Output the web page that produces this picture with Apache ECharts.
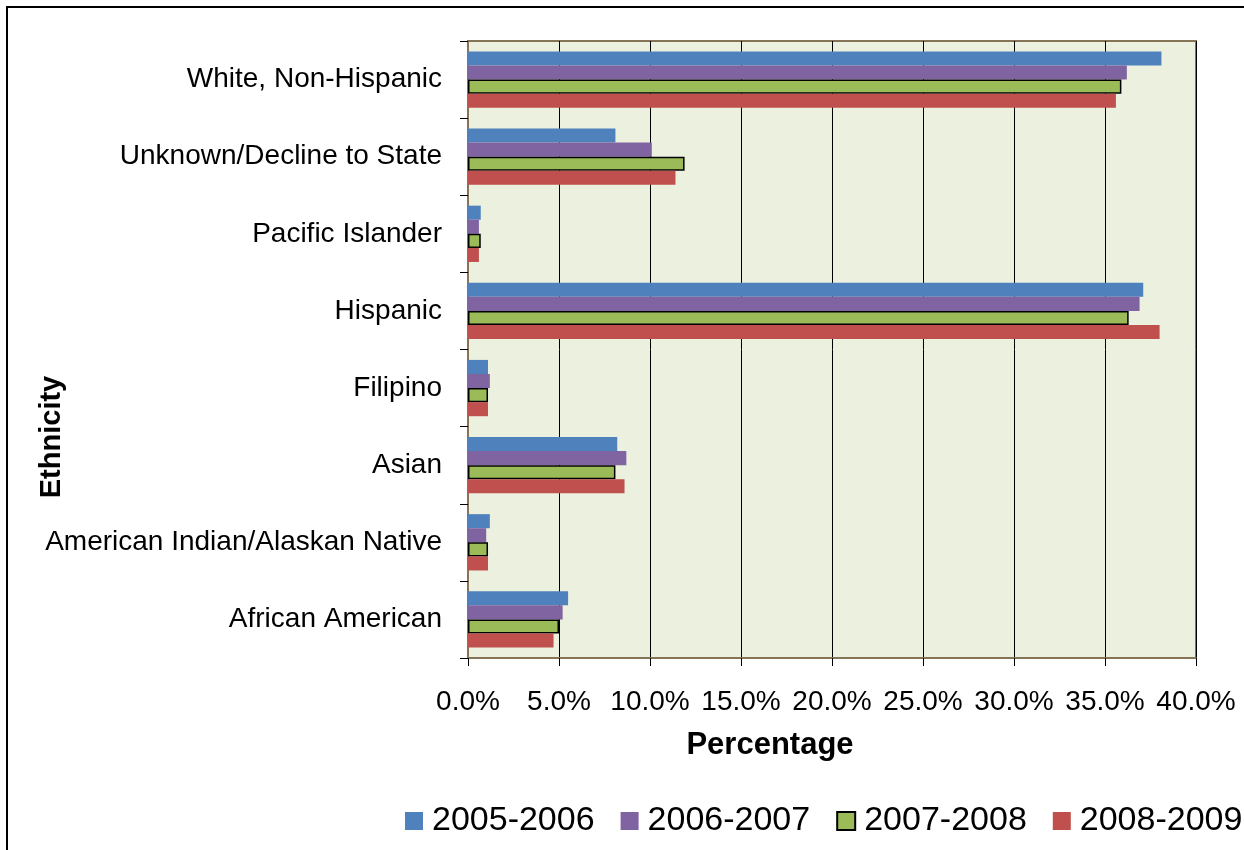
<!DOCTYPE html>
<html>
<head>
<meta charset="utf-8">
<script src="https://cdn.jsdelivr.net/npm/echarts@6/dist/echarts.min.js"></script>
<style>
html,body{margin:0;padding:0;background:#fff;}
#chart{width:1244px;height:850px;}
</style>
</head>
<body>
<div id="chart"></div>
<script>
const categories = ["African American", "American Indian/Alaskan Native", "Asian", "Filipino", "Hispanic", "Pacific Islander", "Unknown/Decline to State", "White, Non-Hispanic"];
const seriesNames = ["2005-2006", "2006-2007", "2007-2008", "2008-2009"];
const s2005 = [5.5, 1.2, 8.2, 1.1, 37.1, 0.7, 8.1, 38.1];
const s2006 = [5.2, 1.0, 8.7, 1.2, 36.9, 0.6, 10.1, 36.2];
const s2007 = [5.0, 1.1, 8.1, 1.1, 36.3, 0.7, 11.9, 35.9];
const s2008 = [4.7, 1.1, 8.6, 1.1, 38.0, 0.6, 11.4, 35.6];
const xTicks = [0, 5, 10, 15, 20, 25, 30, 35, 40];

const colors = ["#4F81BD", "#8064A2", "#9BBB59", "#C0504D"];
const values = [s2005, s2006, s2007, s2008];
const FONT = 'Liberation Sans, Arial, sans-serif';

const chart = echarts.init(document.getElementById('chart'));
const series = seriesNames.map((n, i) => ({
  name: n,
  type: 'bar',
  data: values[i],
  barGap: '0%',
  barCategoryGap: '27%',
  itemStyle: {
    color: colors[i],
    borderColor: i === 2 ? '#000' : colors[i],
    borderWidth: i === 2 ? 1.5 : 0
  }
}));

chart.setOption({
  animation: false,
  textStyle: {fontFamily: FONT},
  graphic: [{
    type: 'rect', shape: {x: 7, y: 7, width: 1300, height: 900},
    style: {fill: 'none', stroke: '#000', lineWidth: 2}, silent: true
  }, {
    type: 'text', x: 52, y: 437, rotation: Math.PI / 2,
    style: {text: 'Ethnicity', font: 'bold 29px ' + FONT, fill: '#000', align: 'center', verticalAlign: 'middle'}
  }, {
    type: 'text', x: 770, y: 745,
    style: {text: 'Percentage', font: 'bold 31px ' + FONT, fill: '#000', align: 'center', verticalAlign: 'middle'}
  }],
  grid: {left: 468, right: 48, top: 41, bottom: 192, show: true,
    backgroundColor: '#EBF0DF', borderColor: '#857456', borderWidth: 2},
  legend: {
    data: seriesNames,
    left: 400, top: 799, width: 880, padding: 5,
    itemWidth: 18, itemHeight: 18, itemGap: 26,
    icon: 'rect',
    textStyle: {fontSize: 34, color: '#000', padding: [0,0,0,4], fontFamily: FONT}
  },
  xAxis: {
    type: 'value', min: 0, max: 40, interval: 5,
    axisLine: {show: true, lineStyle: {color: '#857456', width: 2}},
    axisTick: {show: true, length: 8, lineStyle: {color: '#000'}},
    axisLabel: {fontSize: 28, color: '#000', margin: 30, formatter: v => v.toFixed(1) + '%'},
    splitLine: {show: true, lineStyle: {color: '#000', width: 1}}
  },
  yAxis: {
    type: 'category', data: categories,
    axisLine: {show: true, lineStyle: {color: '#857456', width: 2}},
    axisTick: {show: true, length: 8, lineStyle: {color: '#000'}},
    axisLabel: {fontSize: 28, color: '#000', margin: 26},
    splitLine: {show: false}
  },
  series: series
});
</script>
</body>
</html>
